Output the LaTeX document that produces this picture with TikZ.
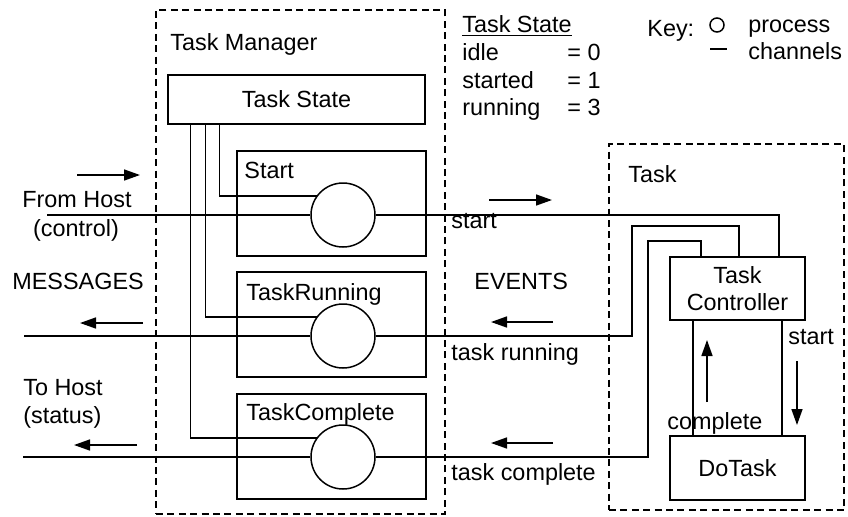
\documentclass[tikz,border=0pt]{standalone}
\usepackage{fontspec}
\setmainfont{Liberation Sans}
\usetikzlibrary{arrows.meta,calc}
\begin{document}
\begin{tikzpicture}[x=0.5pt,y=-0.5pt,
  every node/.style={font=\fontsize{11.7}{13.5}\selectfont},
  box/.style={draw, line width=0.75pt, inner sep=0, rectangle},
  dbox/.style={draw, line width=0.75pt, dash pattern=on 3.5pt off 2.2pt, inner sep=0, rectangle},
  proc/.style={draw, circle, line width=0.75pt, minimum size=32pt, inner sep=0, fill=white},
  ch/.style={line width=0.75pt},
  arr/.style={line width=0.75pt, -{Triangle[length=8pt,width=5.5pt]}},
  lbl/.style={inner sep=0, anchor=base west},
  clbl/.style={inner sep=0, anchor=base},
]
\useasboundingbox (0,0) rectangle (848,516);

% containers
\node[dbox, minimum width=144.5pt, minimum height=252pt] (tm) at (300.5,262) {};
\node[dbox, minimum width=117.5pt, minimum height=183pt] (task) at (726.5,327) {};

% boxes
\node[box, minimum width=128.5pt, minimum height=24.5pt] (ts) at (296.5,99.5) {Task State};
\node[box, minimum width=94.5pt, minimum height=52.5pt] (startb) at (331.5,203.5) {};
\node[box, minimum width=94.5pt, minimum height=52.5pt] (runb) at (331.5,324.5) {};
\node[box, minimum width=94.5pt, minimum height=52.5pt] (compb) at (331.5,446.5) {};
\node[box, minimum width=67.5pt, minimum height=31.5pt, align=center] (tc) at (737.5,288.5) {Task\\Controller};
\node[box, minimum width=67.5pt, minimum height=32pt] (dotask) at (737.5,468) {DoTask};

% processes
\node[proc] (sc) at (343,215) {};
\node[proc] (rc) at (343,336) {};
\node[proc] (cc) at (343,457) {};

% free ends
\coordinate (hin) at (47,215);
\coordinate (mout) at (24,336);
\coordinate (sout) at (23,457);

% channels
\draw[ch] (hin) -- (sc);
\draw[ch] (sc) -| ($(tc.north)+(41.5,0)$);
\draw[ch] ($(tc.north)+(1.5,0)$) |- (632,226) |- (rc);
\draw[ch] ($(tc.north)+(-36.5,0)$) |- (648,241) |- (cc);
\draw[ch] (rc) -- (mout);
\draw[ch] (cc) -- (sout);
\draw[ch] ($(ts.south west)+(52,0)$) |- (sc.144);
\draw[ch] ($(ts.south west)+(38,0)$) |- (rc.144);
\draw[ch] ($(ts.south west)+(23,0)$) |- (cc.144);
\draw[ch] ($(tc.south)+(-44.5,0)$) -- ($(dotask.north)+(-44.5,0)$);
\draw[ch] ($(tc.south)+(44.5,0)$) -- ($(dotask.north)+(44.5,0)$);

% direction arrows
\draw[arr] (77,175) -- (140,175);
\draw[arr] (489,200) -- (552,200);
\draw[arr] (143,323) -- (80,323);
\draw[arr] (137,445) -- (74,445);
\draw[arr] (553,322) -- (491,322);
\draw[arr] (553,443) -- (491,443);
\draw[arr] (707,402) -- (707,340);
\draw[arr] (797,361) -- (797,425);

% labels
\node[lbl] (ltm) at (170,50) {Task Manager};
\node[lbl] (lst) at (244,178) {Start};
\node[lbl] (lrun) at (246,300) {TaskRunning};
\node[lbl] (lcomp) at (246,420) {TaskComplete};
\node[clbl] (lfh) at (77,207) {From Host};
\node[clbl] (lctl) at (76,236) {(control)};
\node[lbl] (lmsg) at (12,289) {MESSAGES};
\node[lbl] (lth) at (23,395) {To Host};
\node[lbl] (lsts) at (23,423) {(status)};
\node[lbl] (lstart) at (451,228) {start};
\node[lbl] (lev) at (474,289) {EVENTS};
\node[lbl] (ltr) at (451,360) {task running};
\node[lbl] (ltc) at (451,480) {task complete};
\node[lbl] (ltask) at (628,182) {Task};
\node[lbl] (lstart2) at (788,344) {start};
\node[lbl] (lcpl) at (667,429) {complete};

% legend
\node[lbl] (lgh) at (462,32) {\underline{Task State}};
\node[lbl] (lg1) at (462,60) {idle};
\node[lbl] (lg1v) at (567,60) {= 0};
\node[lbl] (lg2) at (462,88) {started};
\node[lbl] (lg2v) at (567,88) {= 1};
\node[lbl] (lg3) at (462,115) {running};
\node[lbl] (lg3v) at (567,115) {= 3};

% key
\node[lbl] (lkey) at (647,36) {Key:};
\node[draw, circle, line width=0.75pt, minimum size=7pt, inner sep=0] (kc) at (717,25) {};
\node[lbl] (lproc) at (748,32) {process};
\draw[ch] (710,49) -- (727,49);
\node[lbl] (lchan) at (748,59) {channels};
\end{tikzpicture}
\end{document}
